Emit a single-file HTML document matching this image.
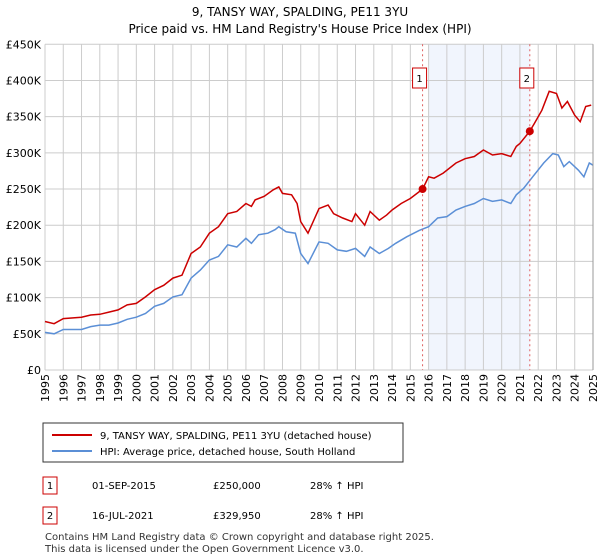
<!DOCTYPE html>
<html><head><meta charset="utf-8"><style>
body{margin:0;background:#fff;font-family:"Liberation Sans","DejaVu Sans",sans-serif;}
svg{display:block}
</style></head><body>
<svg width="600" height="560" xmlns="http://www.w3.org/2000/svg" id="chart" font-family="DejaVu Sans, Liberation Sans, sans-serif">
<text x="300" y="16" text-anchor="middle" font-size="12">9, TANSY WAY, SPALDING, PE11 3YU</text>
<text x="300" y="33" text-anchor="middle" font-size="12">Price paid vs. HM Land Registry's House Price Index (HPI)</text>
<g id="plot"></g>
<g>
<rect x="43" y="423" width="360" height="39" fill="#fff" stroke="#333" stroke-width="1"/>
<line x1="52" y1="435" x2="92" y2="435" stroke="#cc0000" stroke-width="2"/>
<text x="100" y="439" font-size="10">9, TANSY WAY, SPALDING, PE11 3YU (detached house)</text>
<line x1="52" y1="451" x2="92" y2="451" stroke="#5b8fd6" stroke-width="2"/>
<text x="100" y="455" font-size="10">HPI: Average price, detached house, South Holland</text>
</g>
<g font-size="10">
<rect x="43" y="477" width="14" height="17" fill="#fff" stroke="#cc0000"/>
<text x="50" y="489" text-anchor="middle">1</text>
<text x="92" y="489">01-SEP-2015</text><text x="213" y="489">£250,000</text><text x="310" y="489">28% ↑ HPI</text>
<rect x="43" y="507" width="14" height="17" fill="#fff" stroke="#cc0000"/>
<text x="50" y="519" text-anchor="middle">2</text>
<text x="92" y="519">16-JUL-2021</text><text x="213" y="519">£329,950</text><text x="310" y="519">28% ↑ HPI</text>
</g>
<text x="45" y="540" font-size="10" fill="#333">Contains HM Land Registry data © Crown copyright and database right 2025.</text>
<text x="45" y="552" font-size="10" fill="#333">This data is licensed under the Open Government Licence v3.0.</text>
</svg>
<script>
const redYears=[1995,1995.5,1996,1997,1997.5,1998,1998.5,1999,1999.5,2000,2000.5,2001,2001.5,2002,2002.5,2003,2003.5,2004,2004.5,2005,2005.5,2006,2006.3,2006.5,2007,2007.5,2007.8,2008,2008.5,2008.8,2009,2009.4,2010,2010.5,2010.8,2011.3,2011.8,2012,2012.5,2012.8,2013.3,2013.7,2014,2014.5,2015,2015.67,2016,2016.3,2016.8,2017.5,2018,2018.5,2019,2019.5,2020,2020.5,2020.8,2021,2021.54,2021.8,2022.2,2022.6,2023,2023.3,2023.6,2024,2024.3,2024.6,2024.9];
const redValues=[67,64,71,73,76,77,80,83,90,92,101,111,117,127,131,161,170,189,198,216,219,230,226,235,240,249,253,244,242,230,205,189,223,228,216,210,205,216,200,219,207,214,221,230,237,250,267,265,272,286,292,295,304,297,299,295,309,313,330,341,359,385,382,362,371,352,343,364,366];
const blueYears=[1995,1995.5,1996,1997,1997.5,1998,1998.5,1999,1999.5,2000,2000.5,2001,2001.5,2002,2002.5,2003,2003.5,2004,2004.5,2005,2005.5,2006,2006.3,2006.7,2007.2,2007.6,2007.8,2008.2,2008.7,2009,2009.4,2010,2010.5,2011,2011.5,2012,2012.5,2012.8,2013.3,2013.8,2014.2,2014.8,2015.5,2016,2016.5,2017,2017.5,2018,2018.5,2019,2019.5,2020,2020.5,2020.8,2021.2,2021.7,2022.3,2022.8,2023.1,2023.4,2023.7,2024.2,2024.5,2024.8,2025];
const blueValues=[52,50,56,56,60,62,62,65,70,73,78,88,92,101,104,127,138,152,157,173,170,182,175,187,189,194,198,191,189,161,147,177,175,166,164,168,157,170,161,168,175,184,193,198,210,212,221,226,230,237,233,235,230,242,251,267,286,299,297,281,288,276,267,286,283];
const saleYears=[2015.67,2021.54];
const saleValues=[250,329.95];
const saleLabels=["1","2"];
const yTicks=[0,50,100,150,200,250,300,350,400,450];
const yTickLabels=["£0","£50K","£100K","£150K","£200K","£250K","£300K","£350K","£400K","£450K"];
const xTicks=[1995,1996,1997,1998,1999,2000,2001,2002,2003,2004,2005,2006,2007,2008,2009,2010,2011,2012,2013,2014,2015,2016,2017,2018,2019,2020,2021,2022,2023,2024,2025];

const X0=45,X1=593,Y0=370,Y1=44.3;
const xs=y=>X0+(y-1995)/30*(X1-X0);
const ys=v=>Y0-v/450*(Y0-Y1);
const NS="http://www.w3.org/2000/svg";
const plot=document.getElementById('plot');
function mk(t,a){const e=document.createElementNS(NS,t);for(const k in a)e.setAttribute(k,a[k]);plot.appendChild(e);return e;}

const shade=mk('rect',{x:xs(2016),y:Y1,width:xs(2021.54)-xs(2016),height:Y0-Y1,fill:'#eef3fc',opacity:0.8});


yTicks.forEach((v,i)=>{
  const l=mk('line',{x1:X0,x2:X1,y1:ys(v),y2:ys(v),stroke:'#cccccc','stroke-width':1});
  
  
  const t=mk('text',{x:X0-4,y:ys(v)+4,'text-anchor':'end','font-size':11});
  t.textContent=yTickLabels[i];
  
  
});
xTicks.forEach(yr=>{
  const l=mk('line',{x1:xs(yr),x2:xs(yr),y1:Y1,y2:Y0,stroke:'#cccccc','stroke-width':1});
  
  
  const t=mk('text',{x:0,y:0,'text-anchor':'end','font-size':11,transform:`translate(${xs(yr)+4},374) rotate(-90)`});
  t.textContent=yr;
  
  
});
function pts(xa,va){return xa.map((x,i)=>xs(x).toFixed(1)+','+ys(va[i]).toFixed(1)).join(' ');}
const bl=mk('polyline',{points:pts(blueYears,blueValues),fill:'none',stroke:'#5b8fd6','stroke-width':1.5});


const rl=mk('polyline',{points:pts(redYears,redValues),fill:'none',stroke:'#cc0000','stroke-width':1.5});


saleYears.forEach((yr,i)=>{
  const l=mk('line',{x1:xs(yr),x2:xs(yr),y1:Y1,y2:Y0,stroke:'#e06060','stroke-width':1,'stroke-dasharray':'2,3'});
  
  
  const c=mk('circle',{cx:xs(yr),cy:ys(saleValues[i]),r:4,fill:'#cc0000'});
  
  
  const r=mk('rect',{x:xs(yr)-10,y:68,width:14,height:20,fill:'#fff',stroke:'#cc0000'});
  
  
  const t=mk('text',{x:xs(yr)-3,y:82,'text-anchor':'middle','font-size':10});
  t.textContent=saleLabels[i];
  
  
});
const ax=mk('line',{x1:X1,x2:X1,y1:Y1,y2:Y0,stroke:'#999','stroke-width':1});


</script>
</body></html>
